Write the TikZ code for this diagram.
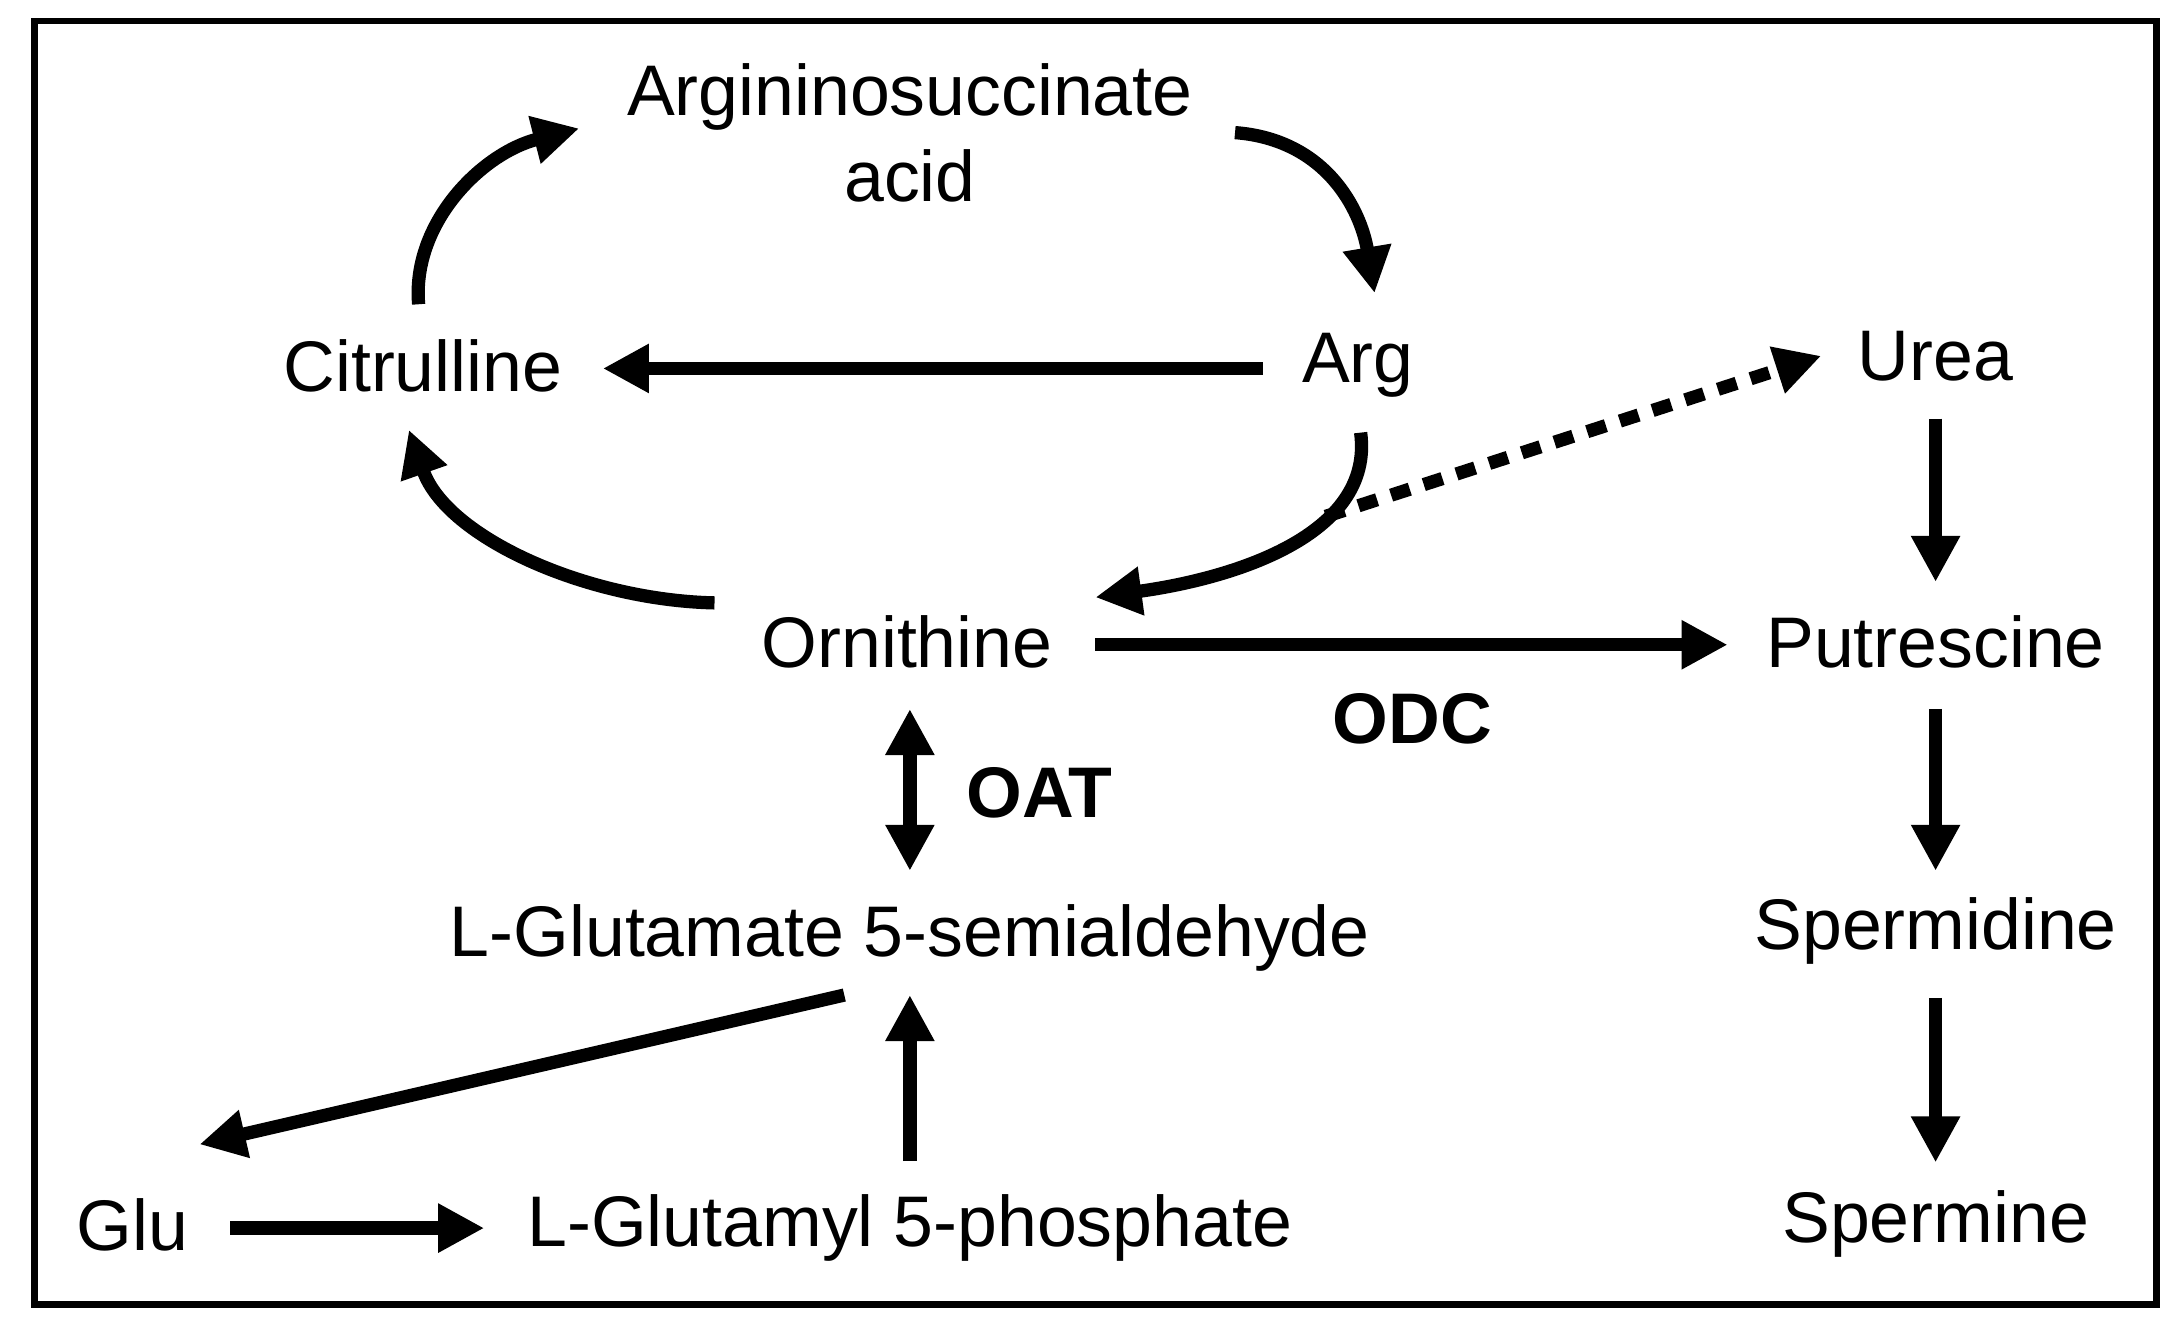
\documentclass[tikz,border=0pt]{standalone}
\usepackage{fontspec}
\setmainfont{Liberation Sans}
\usetikzlibrary{arrows.meta}
\begin{document}
\begin{tikzpicture}[x=0.01cm,y=-0.01cm,
  lbl/.style={font=\fontsize{14.6}{17.5}\selectfont, align=center},
  bl/.style={font=\fontsize{14.6}{17.5}\selectfont\bfseries},
  ar/.style={line width=2.7pt,-{Triangle[length=0.33cm,width=0.33cm]}},
  dar/.style={ar,{Triangle[length=0.33cm,width=0.33cm]}-{Triangle[length=0.33cm,width=0.33cm]}},
  dot/.style={ar,dash pattern=on 4pt off 3pt}]
\useasboundingbox (0,0) rectangle (1565,950);
\draw[line width=1.4pt] (25,15) rectangle (1545,935);
\node[lbl] (asa) at (652,95) {Argininosuccinate\\acid};
\node[lbl] (cit) at (303,262) {Citrulline};
\node[lbl] (arg) at (973,262) {Arg};
\node[lbl] (urea) at (1387,255) {Urea};
\node[lbl] (orn) at (650,460) {Ornithine};
\node[lbl] (put) at (1387,460) {Putrescine};
\node[bl] (odc) at (1012,515) {ODC};
\node[bl] (oat) at (745,568) {OAT};
\node[lbl] (gsa) at (652,672) {L-Glutamate 5-semialdehyde};
\node[lbl] (spd) at (1387,667) {Spermidine};
\node[lbl] (glu) at (95,878) {Glu};
\node[lbl] (gp) at (652,880) {L-Glutamyl 5-phosphate};
\node[lbl] (spm) at (1387,877) {Spermine};
\coordinate (a1) at (300,218); \coordinate (a2) at (415,92);
\coordinate (b1) at (885,95); \coordinate (b2) at (985,210);
\coordinate (c1) at (905,264); \coordinate (c2) at (432,264);
\coordinate (d1) at (975,310); \coordinate (d2) at (785,428);
\coordinate (e1) at (950,370); \coordinate (e2) at (1305,255);
\coordinate (f1) at (512,432); \coordinate (f2) at (293,308);
\coordinate (g1) at (785,462); \coordinate (g2) at (1238,462);
\coordinate (h1) at (652,508); \coordinate (h2) at (652,624);
\coordinate (i1) at (1387,300); \coordinate (i2) at (1387,417);
\coordinate (j1) at (1387,508); \coordinate (j2) at (1387,624);
\coordinate (k1) at (1387,715); \coordinate (k2) at (1387,833);
\coordinate (l1) at (605,713); \coordinate (l2) at (143,820);
\coordinate (m1) at (652,832); \coordinate (m2) at (652,713);
\coordinate (n1) at (165,880); \coordinate (n2) at (347,880);
\draw[ar] (a1) .. controls (295,160) and (345,110) .. (a2);
\draw[ar] (b1) .. controls (950,100) and (975,150) .. (b2);
\draw[ar] (c1) -- (c2);
\draw[ar] (d1) .. controls (985,385) and (880,415) .. (d2);
\draw[dot] (e1) -- (e2);
\draw[ar] (f1) .. controls (420,430) and (320,385) .. (f2);
\draw[ar] (g1) -- (g2);
\draw[dar] (h1) -- (h2);
\draw[ar] (i1) -- (i2);
\draw[ar] (j1) -- (j2);
\draw[ar] (k1) -- (k2);
\draw[ar] (l1) -- (l2);
\draw[ar] (m1) -- (m2);
\draw[ar] (n1) -- (n2);
\end{tikzpicture}
\end{document}
